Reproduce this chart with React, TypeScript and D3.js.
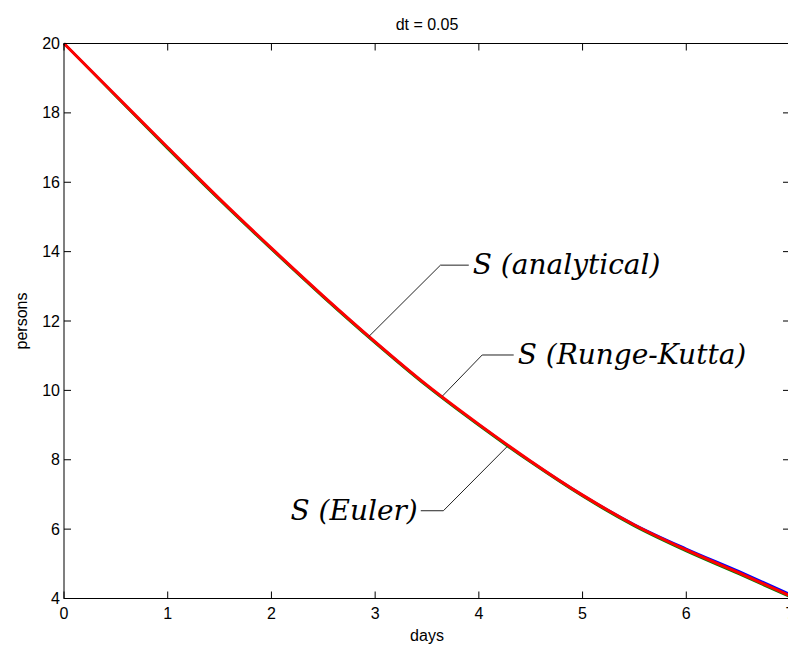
import * as d3 from 'd3';

// S(t), every half day
const days = [0, 0.5, 1, 1.5, 2, 2.5, 3, 3.5, 4, 4.5, 5, 5.5, 6, 6.5, 7];
const sAnalytical = [20, 18.5, 17.0, 15.52, 14.1, 12.72, 11.4, 10.15, 9.02, 7.96, 6.99, 6.14, 5.44, 4.8, 4.13];
const sRungeKutta = [20, 18.47, 16.96, 15.48, 14.06, 12.68, 11.36, 10.11, 8.98, 7.92, 6.94, 6.08, 5.36, 4.71, 4.04];
const sEuler = [20, 18.5, 17.0, 15.52, 14.1, 12.72, 11.4, 10.15, 9.02, 7.96, 6.98, 6.12, 5.4, 4.75, 4.08];

const xTicks = [0, 1, 2, 3, 4, 5, 6, 7];
const yTicks = [4, 6, 8, 10, 12, 14, 16, 18, 20];

// leader-line labels, in data units: point on curve, elbow, end of the flat part
const labels = [
  { text: 'S (analytical)', at: [2.938, 11.55], elbow: [3.63, 13.61], end: 3.903, side: 'right' },
  { text: 'S (Runge-Kutta)', at: [3.65, 9.84], elbow: [4.032, 11.02], end: 4.336, side: 'right' },
  { text: 'S (Euler)', at: [4.273, 8.38], elbow: [3.658, 6.53], end: 3.44, side: 'left' },
];

const series = [
  { values: sAnalytical, color: '#0000ff', width: 2 },
  { values: sRungeKutta, color: '#008000', width: 2 },
  { values: sEuler, color: '#ff0000', width: 3 },
];

export default function App() {
  const width = 788;
  const height = 648;

  const x = d3.scaleLinear().domain([0, 7]).range([64, 790]);
  const y = d3.scaleLinear().domain([4, 20]).range([598.5, 43.5]);

  const line = d3
    .line<number>()
    .x((d, i) => x(days[i]))
    .y((d) => y(d))
    .curve(d3.curveMonotoneX);

  const [x0, x1] = x.range();
  const [yb, yt] = y.range();
  const tick = 7;
  const sans = 'Liberation Sans, Arial, sans-serif';

  return (
    <svg
      width={width}
      height={height}
      style={{ position: 'absolute', left: 0, top: 0, background: '#fff' }}
      fontFamily={sans}
      fontSize={16}
    >
      <rect width={width} height={height} fill='#fff' />

      {/* plot lines */}
      {series.map((s, i) => (
        <path key={i} d={line(s.values) ?? ''} fill='none' stroke={s.color} strokeWidth={s.width} />
      ))}

      {/* box */}
      <rect x={x0} y={yt} width={x1 - x0} height={yb - yt} fill='none' stroke='#000' strokeWidth={1} />

      {/* x ticks, bottom and top */}
      {xTicks.map((t) => (
        <g key={'x' + t}>
          <line x1={x(t)} x2={x(t)} y1={yb} y2={yb - tick} stroke='#000' />
          <line x1={x(t)} x2={x(t)} y1={yt} y2={yt + tick} stroke='#000' />
          <text x={x(t)} y={yb + 20} textAnchor='middle' fill='#000'>
            {t}
          </text>
        </g>
      ))}

      {/* y ticks, left and right */}
      {yTicks.map((t) => (
        <g key={'y' + t}>
          <line x1={x0} x2={x0 + tick} y1={y(t)} y2={y(t)} stroke='#000' />
          <line x1={x1} x2={x1 - tick} y1={y(t)} y2={y(t)} stroke='#000' />
          <text x={x0 - 4} y={y(t)} dy='0.35em' textAnchor='end' fill='#000'>
            {t}
          </text>
        </g>
      ))}

      {/* titles */}
      <text x={(x0 + x1) / 2} y={30} textAnchor='middle' fill='#000'>
        dt = 0.05
      </text>
      <text x={(x0 + x1) / 2} y={641} textAnchor='middle' fill='#000'>
        days
      </text>
      <text
        transform={`translate(27, ${(yt + yb) / 2}) rotate(-90)`}
        textAnchor='middle'
        fill='#000'
      >
        persons
      </text>

      {/* leader labels */}
      {labels.map((l) => {
        const ax = x(l.at[0]);
        const ay = y(l.at[1]);
        const ex = x(l.elbow[0]);
        const ey = y(l.elbow[1]);
        const hx = x(l.end);
        const right = l.side === 'right';
        return (
          <g key={l.text}>
            <polyline
              points={`${ax},${ay} ${ex},${ey} ${hx},${ey}`}
              fill='none'
              stroke='#222'
              strokeWidth={1}
            />
            <text
              x={right ? hx + 4 : hx - 3}
              y={ey + 9}
              textAnchor={right ? 'start' : 'end'}
              fontFamily='DejaVu Serif, serif'
              fontStyle='italic'
              fontSize={28}
              fill='#000'
            >
              {l.text}
            </text>
          </g>
        );
      })}
    </svg>
  );
}
